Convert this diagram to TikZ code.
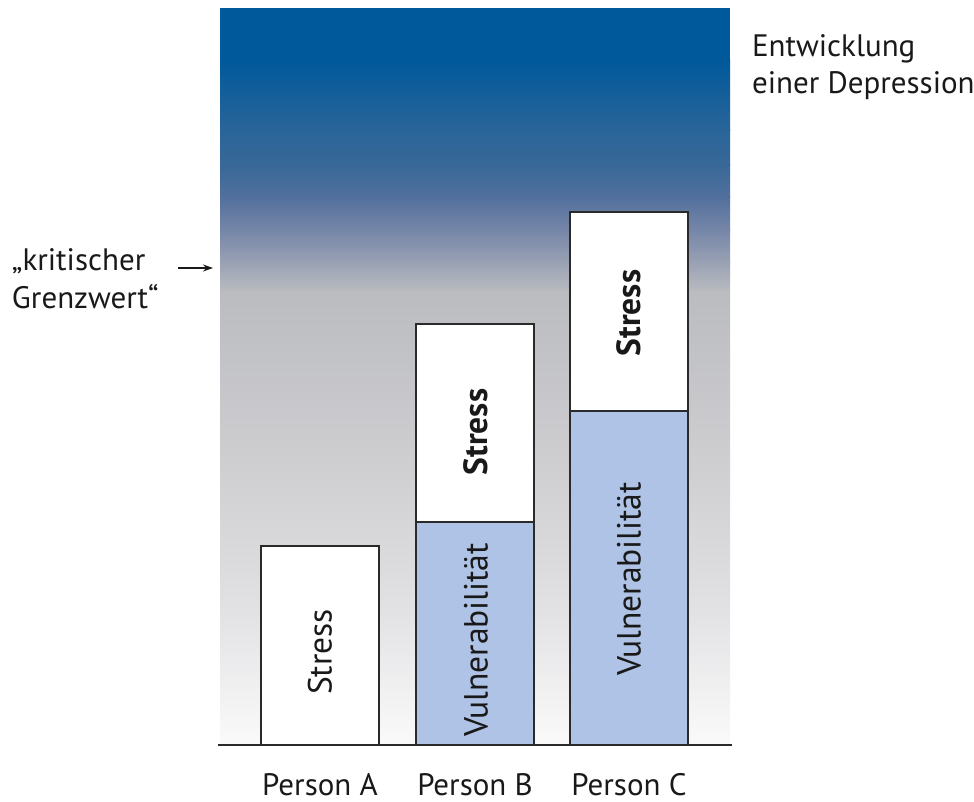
\documentclass[tikz,border=0pt]{standalone}
\usepackage{fontspec}
\setmainfont{PT Sans}
\usetikzlibrary{arrows.meta}
\definecolor{c0}{HTML}{00599B}
\definecolor{c1}{HTML}{2A6599}
\definecolor{c2}{HTML}{386898}
\definecolor{c3}{HTML}{52709D}
\definecolor{c4}{HTML}{7686A8}
\definecolor{c5}{HTML}{9AA2B4}
\definecolor{c6}{HTML}{BBBCC0}
\definecolor{c7}{HTML}{CDCDD0}
\definecolor{c8}{HTML}{E0E0E3}
\definecolor{c9}{HTML}{FAFAFA}
\definecolor{vuln}{HTML}{AEC3E5}
\definecolor{edge}{HTML}{2A2A2A}
\begin{document}
\begin{tikzpicture}[x=1pt,y=-1pt,
  every node/.style={inner sep=0pt, outer sep=0pt, font=\fontsize{31}{37}\selectfont, text=black!90},
  bar/.style={draw=edge, line width=1.3pt, anchor=south west, minimum width=118pt},
  stressbar/.style={bar, fill=white},
  vulnbar/.style={bar, fill=vuln},
  vlabel/.style={rotate=90, font=\fontsize{33.5}{38}\selectfont},
  boldlabel/.style={rotate=90, font=\fontsize{33.5}{38}\selectfont\bfseries},
  caption/.style={anchor=base},
  sidetext/.style={anchor=base west}
]
\useasboundingbox (0,0) rectangle (974,802);
% background gradient
\fill[c0] (220,8) rectangle (730,60.5);
\shade[top color=c0, bottom color=c1] (220,60) rectangle (730,130.5);
\shade[top color=c1, bottom color=c2] (220,130) rectangle (730,165.5);
\shade[top color=c2, bottom color=c3] (220,165) rectangle (730,197.5);
\shade[top color=c3, bottom color=c4] (220,197) rectangle (730,230.5);
\shade[top color=c4, bottom color=c5] (220,230) rectangle (730,263.5);
\shade[top color=c5, bottom color=c6] (220,263) rectangle (730,292.5);
\shade[top color=c6, bottom color=c7] (220,292) rectangle (730,451.5);
\shade[top color=c7, bottom color=c8] (220,451) rectangle (730,599.5);
\shade[top color=c8, bottom color=c9] (220,599) rectangle (730,745);

% bars
\node[stressbar, minimum height=199pt] (sA) at (261,745) {};
\node[vulnbar, minimum height=224pt] (vB) at (416,745) {};
\node[stressbar, minimum height=198pt] (sB) at (416,522) {};
\node[vulnbar, minimum height=334pt] (vC) at (570,745) {};
\node[stressbar, minimum height=199pt] (sC) at (570,411) {};

\node[vlabel] (tA) at (320,652) {Stress};
\node[vlabel] (tvB) at (476,640) {Vulnerabilität};
\node[boldlabel] (tsB) at (476,432) {Stress};
\node[vlabel] (tvC) at (629,579) {Vulnerabilität};
\node[boldlabel] (tsC) at (629,313) {Stress};

% baseline
\coordinate (bl) at (218,745);
\coordinate (br) at (732,745);
\draw[edge, line width=1.4pt] (bl) -- (br);

% captions
\node[caption] (pA) at (320,795) {Person A};
\node[caption] (pB) at (475,795) {Person B};
\node[caption] (pC) at (629,795) {Person C};

% right text
\node[sidetext] (e1) at (752,57) {Entwicklung};
\node[sidetext] (e2) at (752,94) {einer Depression};

% left text
\node[sidetext] (k1) at (12,270) {„kritischer};
\node[sidetext] (k2) at (12,308) {Grenzwert“};
\coordinate (as) at (178,268);
\coordinate (ae) at (213,268);
\draw[black!90, line width=1.1pt, -{Stealth[length=10pt,width=7pt]}] (as) -- (ae);
\end{tikzpicture}
\end{document}
